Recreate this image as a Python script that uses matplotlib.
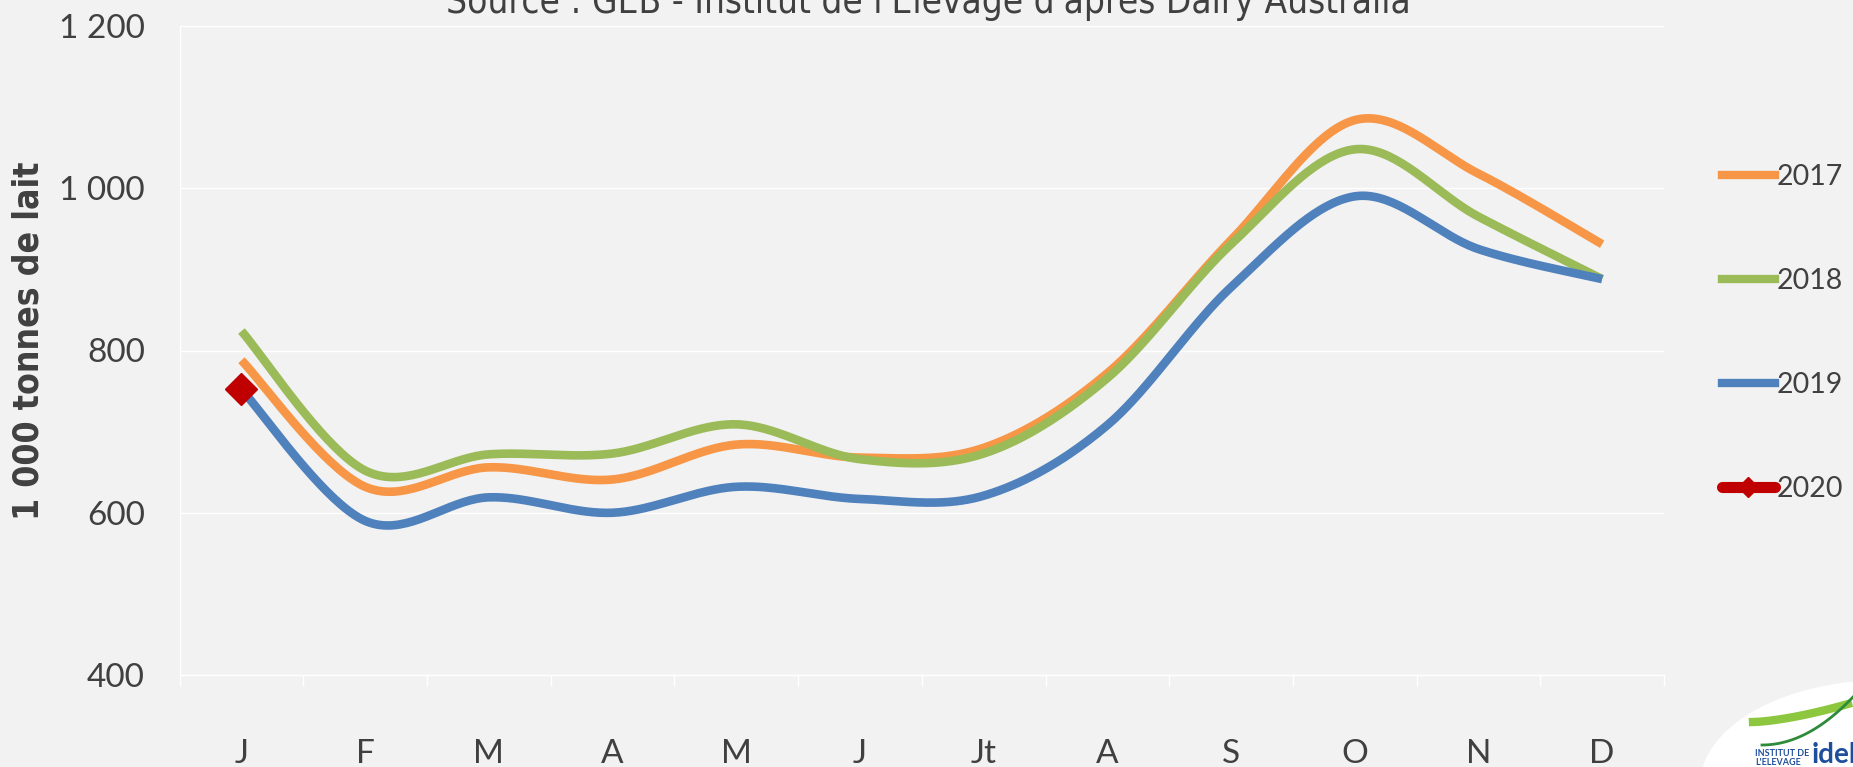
import numpy as np
import matplotlib
matplotlib.use("Agg")
from matplotlib import pyplot as plt
from matplotlib.patches import Ellipse
from matplotlib.lines import Line2D

# Collecte mensuelle de lait en Australie (1 000 t)
mois = ["J", "F", "M", "A", "M", "J", "Jt", "A", "S", "O", "N", "D"]
lait_2017 = [788, 632, 656, 641, 684, 668, 680, 772, 936, 1084, 1018, 931]
lait_2018 = [824, 652, 672, 673, 709, 666, 673, 766, 931, 1048, 965, 888]
lait_2019 = [752, 590, 619, 600, 632, 617, 621, 708, 878, 990, 925, 888]
lait_2020 = [753]

y_ticks = [400, 600, 800, 1000, 1200]
y_tick_labels = ["400", "600", "800", "1 000", "1 200"]

fond = "#F2F2F2"
gris = "#404040"
couleurs = {"2017": "#F79646", "2018": "#9BBB59", "2019": "#4F81BD", "2020": "#C00000"}


# lissage type Excel (bezier avec tangentes de Catmull-Rom)
def lisser(y, n=40):
    y = np.asarray(y, dtype=float)
    x = np.arange(len(y), dtype=float)
    if len(y) < 2:
        return x, y
    xs, ys = [], []
    for i in range(len(y) - 1):
        i0, i3 = max(i - 1, 0), min(i + 2, len(y) - 1)
        p0 = np.array([x[i], y[i]])
        p3 = np.array([x[i + 1], y[i + 1]])
        p1 = p0 + (np.array([x[i + 1], y[i + 1]]) - np.array([x[i0], y[i0]])) / 6
        p2 = p3 - (np.array([x[i3], y[i3]]) - np.array([x[i], y[i]])) / 6
        t = np.linspace(0, 1, n)[:, None]
        pts = (1 - t) ** 3 * p0 + 3 * (1 - t) ** 2 * t * p1 + 3 * (1 - t) * t ** 2 * p2 + t ** 3 * p3
        xs.append(pts[:, 0])
        ys.append(pts[:, 1])
    return np.concatenate(xs), np.concatenate(ys)


plt.rcParams['font.family'] = ['Lato', 'DejaVu Sans']

fig = plt.figure(figsize=(18.53, 7.67), dpi=100, facecolor=fond)
ax = fig.add_axes([179.6 / 1853, 1 - 675 / 767, (1664 - 179.6) / 1853, (675 - 26) / 767])
ax.set_facecolor(fond)

for nom, serie in [("2017", lait_2017), ("2018", lait_2018), ("2019", lait_2019)]:
    xs, ys = lisser(serie)
    ax.plot(xs, ys, color=couleurs[nom], lw=6.2, solid_capstyle="butt", zorder=3)

ax.plot(np.arange(len(lait_2020)), lait_2020, color=couleurs["2020"], marker="D",
        markersize=16, lw=6.2, zorder=4)

ax.set_xlim(-0.5, 11.5)
ax.set_ylim(400, 1200)
ax.set_yticks(y_ticks)
ax.set_yticklabels(y_tick_labels)
ax.set_xticks(np.arange(len(mois)))
ax.set_xticklabels(mois)
ax.set_xticks(np.arange(-0.5, 12, 1), minor=True)

ax.grid(axis="y", color="white", lw=1.0)
ax.set_axisbelow(True)
for cote in ["top", "right"]:
    ax.spines[cote].set_visible(False)
ax.spines["left"].set_color("white")
ax.spines["bottom"].set_color("white")
ax.spines["left"].set_linewidth(1.0)
ax.spines["bottom"].set_linewidth(1.0)

ax.tick_params(axis="x", which="major", length=0, pad=46, labelsize=24, labelcolor=gris)
ax.tick_params(axis="x", which="minor", length=8, width=1.0, color="white", direction="out")
ax.tick_params(axis="y", length=0, pad=25, labelsize=24, labelcolor=gris)

fig.text(29 / 1853, 1 - 341 / 767, "1 000 tonnes de lait", rotation=90, ha="center", va="center",
         fontsize=25.5, fontweight="bold", color=gris, family="DejaVu Sans", fontstretch="condensed")

fig.text(928 / 1853, 1 - 13 / 767, "Source : GEB - Institut de l'Elevage d'après Dairy Australia",
         ha="center", va="baseline", fontsize=26.5, color=gris,
         family="DejaVu Sans", fontstretch="condensed", fontweight="light")

poignees = [
    Line2D([], [], color=couleurs["2017"], lw=6),
    Line2D([], [], color=couleurs["2018"], lw=6),
    Line2D([], [], color=couleurs["2019"], lw=6),
    Line2D([], [], color=couleurs["2020"], lw=8, marker="D", markersize=10,
           solid_capstyle="round"),
]
fig.legend(poignees, ["2017", "2018", "2019", "2020"], loc="center left",
           bbox_to_anchor=(1722 / 1853, 1 - 333 / 767), frameon=False, fontsize=20.5,
           labelcolor=gris, handlelength=1.85, handletextpad=0.08, labelspacing=2.75,
           borderpad=0, borderaxespad=0)

# logo idele (approximation)
fig.patches.append(Ellipse((1885 / 1853, 1 - 785 / 767), 370 / 1853, 210 / 767,
                           transform=fig.transFigure, facecolor="white", edgecolor="none"))
t = np.linspace(0, 1, 30)
fig.lines.append(Line2D((1753 + 95 * t) / 1853, 1 - (722 - 18 * t ** 1.5) / 767,
                        transform=fig.transFigure, color="#8DC63F", lw=6))
fig.lines.append(Line2D((1762 + 91 * t) / 1853, 1 - (745 - 48 * t ** 2) / 767,
                        transform=fig.transFigure, color="#2E8B3A", lw=2))
fig.text(1755 / 1853, 1 - 758 / 767, "INSTITUT DE\nL'ELEVAGE", fontsize=6.5, fontweight="bold",
         color="#1F4E9C", va="center", ha="left", linespacing=0.9)
fig.text(1812 / 1853, 1 - 755 / 767, "idele", fontsize=20, fontweight="bold",
         color="#1F4E9C", va="center", ha="left")

fig.savefig("out.png", dpi=100, facecolor=fond)
